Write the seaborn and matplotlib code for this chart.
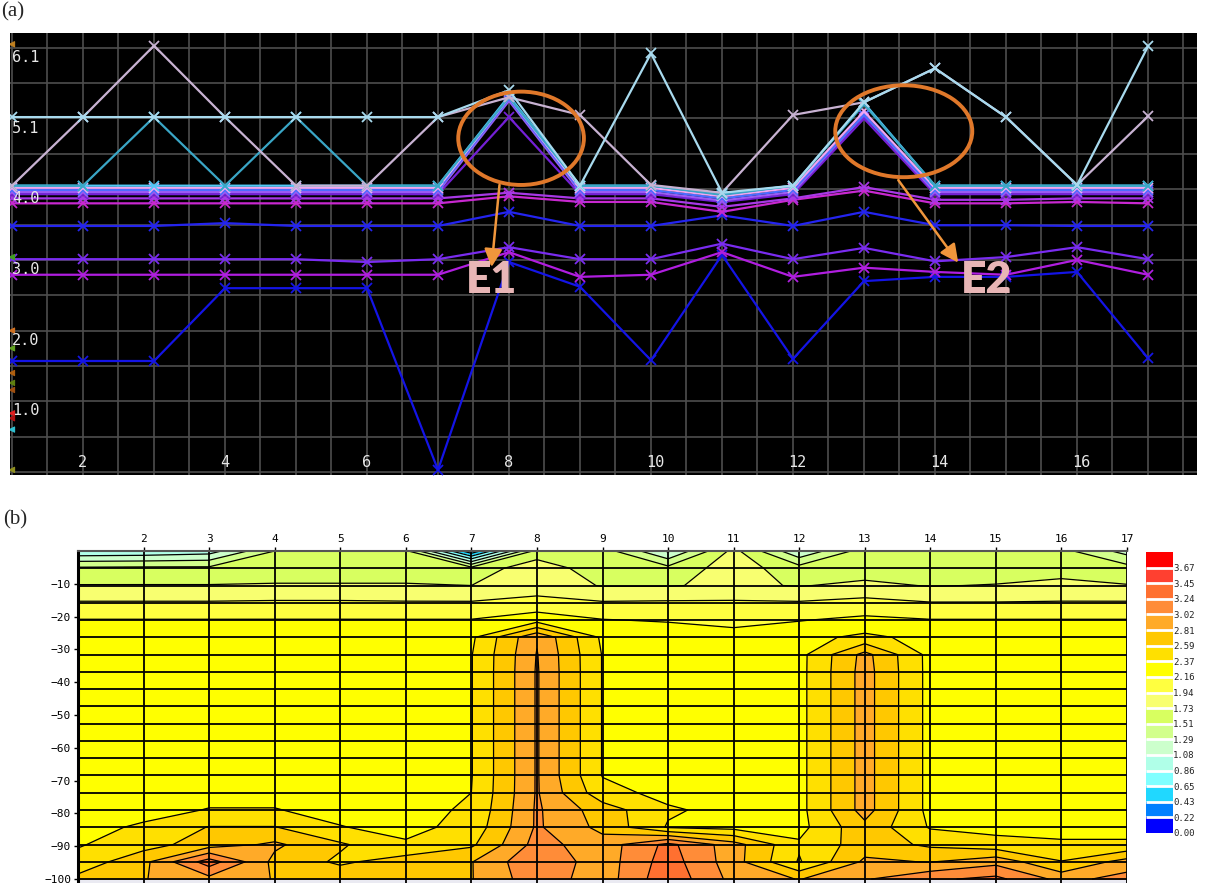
import numpy as np
import pandas as pd
import matplotlib
matplotlib.use("Agg")
import matplotlib.pyplot as plt
import seaborn as sns
from matplotlib.patches import Ellipse

sns.set_theme(style="dark")
plt.rcParams['font.family'] = ['DejaVu Sans']

# ---------------- data: panel (a) ----------------
x_pos = list(range(1, 18))

lavender   = [4.05, 5.02, 6.03, 5.02, 4.05, 4.05, 5.02, 5.30, 5.05, 4.06, 3.95, 5.05, 5.23, 5.71, 5.02, 4.06, 5.03]
lightblue  = [5.02, 5.02, 5.02, 5.02, 5.02, 5.02, 5.02, 5.40, 4.05, 5.92, 3.95, 4.05, 5.23, 5.71, 5.02, 4.06, 6.02]
teal       = [4.05, 4.05, 5.02, 4.05, 5.02, 4.05, 4.05, 5.30, 4.05, 4.05, 3.92, 4.05, 5.20, 4.05, 4.05, 4.05, 4.05]
cyan       = [4.05, 4.05, 4.05, 4.05, 4.05, 4.05, 4.05, 5.32, 4.05, 4.05, 3.93, 4.05, 5.22, 4.05, 4.05, 4.05, 4.05]
pink       = [4.02, 4.02, 4.02, 4.02, 4.02, 4.02, 4.02, 5.30, 4.02, 4.02, 3.90, 4.02, 5.10, 4.02, 4.02, 4.02, 4.02]
blue_mid   = [3.99, 3.99, 3.99, 3.99, 3.99, 3.99, 3.99, 5.28, 3.99, 3.99, 3.87, 3.99, 5.05, 3.99, 3.99, 3.99, 3.99]
violet_hi  = [3.96, 3.96, 3.96, 3.96, 3.96, 3.96, 3.96, 5.25, 3.96, 3.96, 3.84, 3.96, 5.05, 3.96, 3.96, 3.96, 3.96]
purple_hi  = [3.93, 3.93, 3.93, 3.93, 3.93, 3.93, 3.93, 5.02, 3.93, 3.93, 3.82, 3.93, 5.00, 3.93, 3.93, 3.93, 3.93]
magenta_a  = [3.87, 3.87, 3.87, 3.87, 3.87, 3.87, 3.87, 3.95, 3.87, 3.87, 3.75, 3.87, 4.03, 3.85, 3.85, 3.87, 3.87]
magenta_b  = [3.80, 3.80, 3.80, 3.80, 3.80, 3.80, 3.80, 3.90, 3.82, 3.82, 3.68, 3.85, 3.98, 3.80, 3.80, 3.82, 3.80]
blue_35    = [3.48, 3.48, 3.48, 3.52, 3.48, 3.48, 3.48, 3.68, 3.48, 3.48, 3.63, 3.48, 3.68, 3.49, 3.49, 3.48, 3.48]
violet_30  = [3.01, 3.01, 3.01, 3.01, 3.01, 2.97, 3.01, 3.18, 3.01, 3.01, 3.23, 3.01, 3.17, 2.98, 3.04, 3.18, 3.01]
purple_28  = [2.79, 2.79, 2.79, 2.79, 2.79, 2.79, 2.79, 3.11, 2.76, 2.79, 3.11, 2.76, 2.89, 2.83, 2.79, 3.00, 2.79]
deep_blue  = [1.57, 1.57, 1.57, 2.60, 2.60, 2.60, 0.03, 2.97, 2.62, 1.58, 3.07, 1.60, 2.70, 2.76, 2.76, 2.83, 1.61]

series = {
    "deep_blue": (deep_blue, "#1414e6"),
    "purple_28": (purple_28, "#b01ee0"),
    "violet_30": (violet_30, "#7a2cf0"),
    "blue_35": (blue_35, "#2424f0"),
    "magenta_b": (magenta_b, "#c828d0"),
    "magenta_a": (magenta_a, "#a838e6"),
    "purple_hi": (purple_hi, "#7420d6"),
    "violet_hi": (violet_hi, "#9a5cf2"),
    "blue_mid": (blue_mid, "#4a6cff"),
    "pink": (pink, "#f0a6f2"),
    "cyan": (cyan, "#52c8f6"),
    "teal": (teal, "#3aa6c6"),
    "lavender": (lavender, "#c8b2d2"),
    "lightblue": (lightblue, "#a8daee"),
}

ytick_vals = [6, 5, 4, 3, 2, 1]
ytick_text = ["6.1", "5.1", "4.0", "3.0", "2.0", "1.0"]
xtick_vals = [2, 4, 6, 8, 10, 12, 14, 16]

edge_marker_y = [6.05, 3.04, 2.0, 1.75, 1.40, 1.26, 1.16, 0.83, 0.76, 0.60, 0.03]
edge_marker_c = ["#c08020", "#40a020", "#d07020", "#60a020", "#b06010", "#608010",
                 "#a05010", "#e02020", "#b01010", "#30c0d0", "#909020"]

# ---------------- data: panel (b) ----------------
depths = [-k * 100 / 19 for k in range(20)]
levels = [0.00, 0.22, 0.43, 0.65, 0.86, 1.08, 1.29, 1.51, 1.73, 1.94,
          2.16, 2.37, 2.59, 2.81, 3.02, 3.24, 3.45, 3.67, 3.89]
band_colors = ['#0000ff', '#0080ff', '#20d8ff', '#80ffff', '#b0ffe8', '#ccffcc',
               '#d2ff8c', '#d8ff60', '#f8ff70', '#ffff40', '#ffff00', '#ffe000',
               '#ffc800', '#ffaa28', '#ff8c38', '#ff7030', '#ff4030', '#ff0000']

resistivity = [
    [0.90, 0.92, 0.98, 1.51, 1.56, 1.56, 0.25, 1.60, 1.62, 1.05, 1.80, 1.10, 1.62, 1.60, 1.60, 1.58, 1.20],
    [1.55, 1.56, 1.56, 1.60, 1.60, 1.60, 1.60, 1.86, 1.60, 1.58, 1.84, 1.60, 1.64, 1.60, 1.62, 1.70, 1.60],
    [1.74, 1.74, 1.74, 1.75, 1.75, 1.75, 1.73, 1.82, 1.72, 1.72, 1.76, 1.72, 1.77, 1.72, 1.74, 1.75, 1.74],
    [1.96, 1.96, 1.96, 1.97, 1.97, 1.96, 1.96, 2.02, 1.96, 1.97, 1.97, 1.96, 2.01, 1.95, 1.95, 1.96, 1.96],
    [2.17, 2.17, 2.17, 2.17, 2.17, 2.17, 2.17, 2.28, 2.17, 2.14, 2.05, 2.15, 2.21, 2.17, 2.17, 2.17, 2.17],
    [2.30, 2.30, 2.30, 2.30, 2.30, 2.30, 2.33, 3.00, 2.33, 2.30, 2.30, 2.30, 2.42, 2.30, 2.30, 2.30, 2.30],
    [2.30, 2.30, 2.30, 2.30, 2.30, 2.30, 2.36, 3.03, 2.36, 2.30, 2.30, 2.30, 2.88, 2.30, 2.30, 2.30, 2.30],
    [2.30, 2.30, 2.30, 2.30, 2.30, 2.30, 2.36, 3.04, 2.36, 2.30, 2.30, 2.30, 2.90, 2.30, 2.30, 2.30, 2.30],
    [2.30, 2.30, 2.30, 2.30, 2.30, 2.30, 2.36, 3.04, 2.36, 2.30, 2.30, 2.30, 2.90, 2.30, 2.30, 2.30, 2.30],
    [2.30, 2.30, 2.30, 2.30, 2.30, 2.30, 2.36, 3.04, 2.36, 2.30, 2.30, 2.30, 2.90, 2.30, 2.30, 2.30, 2.30],
    [2.30, 2.30, 2.30, 2.30, 2.30, 2.30, 2.36, 3.04, 2.36, 2.30, 2.30, 2.30, 2.90, 2.30, 2.30, 2.30, 2.30],
    [2.30, 2.30, 2.30, 2.30, 2.30, 2.30, 2.36, 3.04, 2.36, 2.30, 2.30, 2.30, 2.90, 2.30, 2.30, 2.30, 2.30],
    [2.30, 2.30, 2.30, 2.30, 2.30, 2.30, 2.36, 3.04, 2.36, 2.30, 2.30, 2.30, 2.90, 2.30, 2.30, 2.30, 2.30],
    [2.30, 2.30, 2.30, 2.30, 2.30, 2.30, 2.36, 3.04, 2.36, 2.30, 2.30, 2.30, 2.90, 2.30, 2.30, 2.30, 2.30],
    [2.30, 2.30, 2.30, 2.30, 2.30, 2.30, 2.37, 3.04, 2.45, 2.30, 2.30, 2.30, 2.90, 2.30, 2.30, 2.30, 2.30],
    [2.30, 2.30, 2.38, 2.38, 2.30, 2.30, 2.40, 3.05, 2.70, 2.40, 2.30, 2.30, 2.90, 2.30, 2.30, 2.30, 2.30],
    [2.30, 2.40, 2.60, 2.60, 2.38, 2.30, 2.45, 3.05, 2.75, 2.35, 2.30, 2.30, 2.75, 2.35, 2.30, 2.30, 2.30],
    [2.35, 2.50, 2.70, 2.85, 2.62, 2.40, 2.55, 3.10, 2.90, 3.30, 2.90, 2.40, 2.70, 2.55, 2.45, 2.40, 2.40],
    [2.45, 2.75, 3.35, 2.75, 2.55, 2.70, 2.80, 3.20, 2.90, 3.35, 2.90, 2.35, 2.85, 2.80, 2.95, 2.60, 2.90],
    [2.65, 2.80, 2.95, 2.80, 2.75, 2.80, 2.80, 3.15, 2.90, 3.40, 2.95, 2.80, 3.00, 3.20, 3.30, 2.95, 3.10],
]
depth_ticks = [-10, -20, -30, -40, -50, -60, -70, -80, -90, -100]
top_ticks = list(range(2, 18))

# ---------------- figure ----------------
W, H = 1211, 883
fig = plt.figure(figsize=(W / 100, H / 100), dpi=100, facecolor="white")

# ===== panel (a) =====
ax = fig.add_axes([10 / W, 1 - 475 / H, 1187 / W, 442 / H])
ax.set_facecolor("black")
rows = []
for name, (vals, col) in series.items():
    for xv, yv in zip(x_pos, vals):
        rows.append({"x": xv, "y": yv, "series": name})
df = pd.DataFrame(rows)
palette = {n: c for n, (v, c) in series.items()}
for name in series.keys():
    sub = df[df.series == name]
    sns.lineplot(data=sub, x="x", y="y", color=palette[name], lw=1.6,
                 marker="x", markersize=7, mew=1.3, mec=palette[name],
                 ax=ax, legend=False, zorder=3)
ax.scatter([1] * len(edge_marker_y), edge_marker_y, marker="<", s=14,
           c=edge_marker_c, linewidths=0.8, zorder=4)

ax.set_xlim(1 - 2 / 71, 1 + 1185 / 71)
ax.set_ylim(-3 / 70.7, 439 / 70.7)
ax.set_xticks(np.arange(1, 18, 0.5))
ax.set_yticks(np.arange(0, 6.5, 0.5))
ax.tick_params(length=0, labelbottom=False, labelleft=False)
ax.grid(True, color="#4e4e4e", lw=1.2)
ax.set_axisbelow(True)
ax.set_xlabel("")
ax.set_ylabel("")
for s in ax.spines.values():
    s.set_visible(False)
for yv, t in zip(ytick_vals, ytick_text):
    ax.text(1.0, yv - 0.03, t, color="#e8e8e8", fontsize=11, family="DejaVu Sans Mono",
            ha="left", va="top", zorder=5)
for xv in xtick_vals:
    ax.text(xv - 0.07, 0.14, str(xv), color="#e8e8e8", fontsize=11, family="DejaVu Sans Mono",
            ha="left", va="center", zorder=5)

# annotations E1 / E2
ax.add_patch(Ellipse((8.17, 4.72), 1.77, 1.32, fill=False, ec="#e0782a", lw=2.8, zorder=6))
ax.add_patch(Ellipse((13.56, 4.82), 1.93, 1.30, fill=False, ec="#e0782a", lw=2.8, zorder=6))
ax.annotate("", xy=(7.75, 2.86), xytext=(7.87, 4.10),
            arrowprops=dict(arrowstyle="-|>,head_length=0.9,head_width=0.45", color="#f0963c", lw=1.8),
            zorder=6)
ax.annotate("", xy=(14.35, 2.93), xytext=(13.46, 4.16),
            arrowprops=dict(arrowstyle="-|>,head_length=0.9,head_width=0.45", color="#f0963c", lw=1.8),
            zorder=6)
ax.text(7.76, 2.72, "E1", color="#e8b6b6", fontsize=32, fontweight="heavy", family="Lato",
        ha="center", va="center", zorder=7)
ax.text(14.73, 2.72, "E2", color="#e8b6b6", fontsize=32, fontweight="heavy", family="Lato",
        ha="center", va="center", zorder=7)

fig.text(1 / W, 1 - 2 / H, "(a)", family="Liberation Serif", fontsize=15, va="top", ha="left")
fig.text(3 / W, 1 - 510 / H, "(b)", family="Liberation Serif", fontsize=15, va="top", ha="left")

# ===== panel (b) =====
axb = fig.add_axes([78 / W, 0, 1049 / W, 332 / H])
Xg, Yg = np.meshgrid(x_pos, depths)
Z = np.array(resistivity)
cf = axb.contourf(Xg, Yg, Z, levels=levels, colors=band_colors)
axb.contour(Xg, Yg, Z, levels=levels, colors="black", linewidths=0.9)
axb.vlines(x_pos, -102, 0, color="black", lw=1.3)
axb.hlines(depths[1:], 1, 17, color="black", lw=1.3)
axb.set_xlim(1, 17)
axb.set_ylim(-101.2, 0)
axb.xaxis.tick_top()
axb.set_xticks(top_ticks)
axb.set_xticklabels([str(t) for t in top_ticks], family="DejaVu Sans Mono", fontsize=8)
axb.set_yticks(depth_ticks)
axb.set_yticklabels([f"\u2212{abs(t)}" for t in depth_ticks], family="DejaVu Sans Mono", fontsize=8)
axb.tick_params(axis="both", length=3, width=1, color="black", pad=2, colors="black")
axb.tick_params(axis="x", top=True, bottom=False)
axb.tick_params(axis="y", left=True)
axb.grid(False)
for s in ["bottom", "right"]:
    axb.spines[s].set_visible(False)
axb.spines["left"].set_color("black")
axb.spines["left"].set_linewidth(2.2)
axb.spines["top"].set_color("#555555")
axb.spines["top"].set_linewidth(1.5)

# colorbar
cax = fig.add_axes([1146 / W, 1 - 833 / H, 27 / W, 281 / H])
cb = fig.colorbar(cf, cax=cax, ticks=levels[:-1], drawedges=True)
cb.dividers.set_color("white")
cb.dividers.set_linewidth(2)
cb.outline.set_visible(False)
cax.set_yticklabels([f"{v:.2f}" for v in levels[:-1]], family="DejaVu Sans Mono", fontsize=6.5)
cax.tick_params(length=0, pad=0, colors="#222222")

fig.savefig("out.png", dpi=100, facecolor="white")
